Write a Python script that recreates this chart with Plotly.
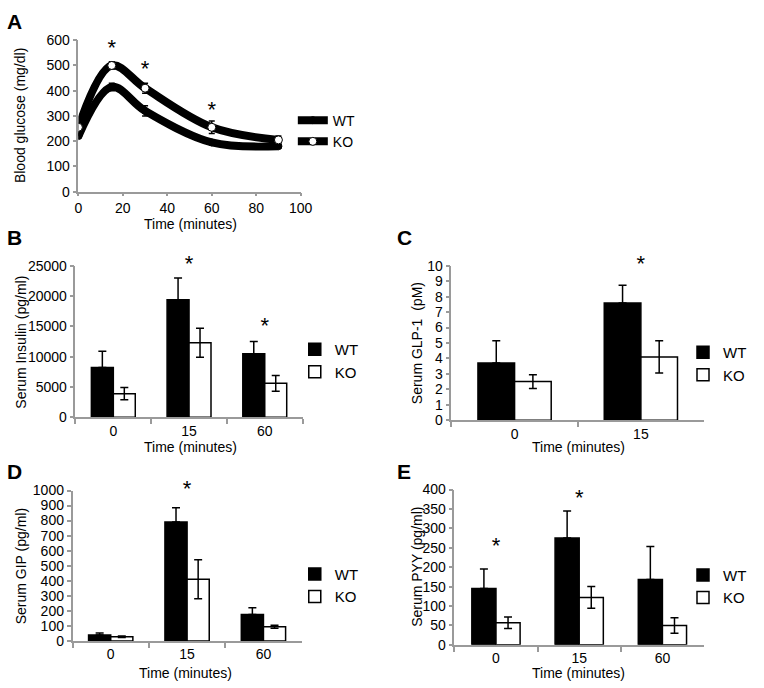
import plotly.graph_objects as go

W, H = 764, 688
FONT = "Liberation Sans, Arial, Helvetica, sans-serif"
AXC = "#9a9a9a"

# ---- Panel A: blood glucose ----
a_time = [0, 15, 30, 60, 90]
a_wt = [220, 415, 320, 195, 180]
a_wt_err = [8, 15, 20, 8, 8]
a_ko = [255, 500, 410, 255, 205]
a_ko_err = [8, 15, 20, 25, 15]
a_sig_time = [15, 30, 60]
a_sig_y = [565, 480, 317]

# ---- Bar panels ----
cats3 = ["0", "15", "60"]
cats2 = ["0", "15"]

b_wt = [8200, 19400, 10500]
b_wt_err = [2700, 3600, 2000]
b_ko = [3900, 12300, 5600]
b_ko_err = [1000, 2400, 1300]
b_sig_cat = ["15", "60"]
b_sig_y = [25000, 14800]

c_wt = [3.7, 7.6]
c_wt_err = [1.45, 1.15]
c_ko = [2.5, 4.1]
c_ko_err = [0.45, 1.05]
c_sig_cat = ["15"]
c_sig_y = [10.0]

d_wt = [40, 790, 175]
d_wt_err = [12, 95, 45]
d_ko = [28, 410, 95]
d_ko_err = [5, 130, 10]
d_sig_cat = ["15"]
d_sig_y = [1000]

e_wt = [145, 275, 168]
e_wt_err = [50, 70, 85]
e_ko = [57, 122, 50]
e_ko_err = [15, 28, 20]
e_sig_cat = ["0", "15"]
e_sig_y = [250, 375]

def px(x):
    return x / W

def py(y):
    return 1 - y / H

fig = go.Figure()

STAR = dict(size=22, color="black", family=FONT)

fig.add_trace(go.Scatter(
    x=a_time, y=a_wt, name="WT", mode="lines+markers",
    line=dict(color="black", width=8, shape="spline", smoothing=1.0),
    marker=dict(color="black", size=7, line=dict(color="black", width=1)),
    error_y=dict(type="data", array=a_wt_err, color="black", thickness=1.5, width=3),
    xaxis="x", yaxis="y", legend="legend"))
fig.add_trace(go.Scatter(
    x=a_time, y=a_ko, name="KO", mode="lines+markers",
    line=dict(color="black", width=8, shape="spline", smoothing=1.0),
    marker=dict(color="white", size=8, line=dict(color="black", width=1)),
    error_y=dict(type="data", array=a_ko_err, color="black", thickness=1.5, width=3),
    xaxis="x", yaxis="y", legend="legend"))
fig.add_trace(go.Scatter(
    x=a_sig_time, y=a_sig_y, mode="text", text=["*"] * len(a_sig_time),
    textfont=STAR, showlegend=False, cliponaxis=False,
    xaxis="x", yaxis="y", hoverinfo="skip"))

def add_bars(idx, cats, wt, wt_err, ko, ko_err, sig_cat, sig_y):
    ax = "x%d" % idx
    ay = "y%d" % idx
    lg = "legend%d" % idx
    fig.add_trace(go.Bar(
        x=cats, y=wt, name="WT", marker=dict(color="black", line=dict(color="black", width=1.5)),
        error_y=dict(type="data", symmetric=False, array=wt_err, arrayminus=[0] * len(wt),
                     color="black", thickness=1.5, width=4),
        xaxis=ax, yaxis=ay, legend=lg))
    fig.add_trace(go.Bar(
        x=cats, y=ko, name="KO", marker=dict(color="white", line=dict(color="black", width=1.5)),
        error_y=dict(type="data", array=ko_err, color="black", thickness=1.5, width=4),
        xaxis=ax, yaxis=ay, legend=lg))
    fig.add_trace(go.Scatter(
        x=sig_cat, y=sig_y, mode="text", text=["*"] * len(sig_cat),
        textfont=STAR, showlegend=False, cliponaxis=False,
        xaxis=ax, yaxis=ay, hoverinfo="skip"))

add_bars(2, cats3, b_wt, b_wt_err, b_ko, b_ko_err, b_sig_cat, b_sig_y)
add_bars(3, cats2, c_wt, c_wt_err, c_ko, c_ko_err, c_sig_cat, c_sig_y)
add_bars(4, cats3, d_wt, d_wt_err, d_ko, d_ko_err, d_sig_cat, d_sig_y)
add_bars(5, cats3, e_wt, e_wt_err, e_ko, e_ko_err, e_sig_cat, e_sig_y)

tickfont = dict(family=FONT, size=14, color="black")
axbase = dict(showline=True, linecolor=AXC, linewidth=1.5, ticks="outside",
              tickcolor=AXC, ticklen=4, tickwidth=1.5, showgrid=False, zeroline=False,
              tickfont=tickfont, fixedrange=True)

dom = {
    1: ((76, 303), (33, 188)),
    2: ((73, 305), (264, 419)),
    3: ((457, 715), (264, 422)),
    4: ((70, 304), (494, 648)),
    5: ((460, 715), (493, 652)),
}
yr = {1: (0, 600, 100), 2: (0, 25000, 5000), 3: (0, 10, 1), 4: (0, 1000, 100), 5: (0, 400, 50)}

layout = {}
for i in range(1, 6):
    (x0, x1), (y0, y1) = dom[i]
    xk = "xaxis" if i == 1 else "xaxis%d" % i
    yk = "yaxis" if i == 1 else "yaxis%d" % i
    xa = dict(axbase, domain=[px(x0), px(x1)], anchor="y" if i == 1 else "y%d" % i)
    if i == 1:
        xa.update(range=[0, 100], dtick=20, tick0=0, ticklen=3)
    else:
        xa.update(type="category", tickson="boundaries", ticklen=5)
    ya = dict(axbase, domain=[py(y1), py(y0)], anchor="x" if i == 1 else "x%d" % i,
              range=[yr[i][0], yr[i][1]], dtick=yr[i][2], tick0=0, tickformat="d")
    layout[xk] = xa
    layout[yk] = ya

fig.update_layout(**layout)

legpos = {
    "legend": (295, 126, 14, "left"),
    "legend2": (297, 361, 15, "left"),
    "legend3": (1.0, 364, 15, "right"),
    "legend4": (297, 591, 15, "left"),
    "legend5": (1.0, 592, 15, "right"),
}
for k, (lx, ly, fs, anc) in legpos.items():
    xv = lx if anc == "right" else px(lx)
    fig.update_layout({k: dict(x=xv, y=py(ly), xanchor=anc, yanchor="middle",
                               font=dict(family=FONT, size=fs, color="black"),
                               bgcolor="rgba(0,0,0,0)", itemwidth=30, tracegroupgap=0)})

anns = []
def txt(x, y, s, size=14, angle=0, bold=False):
    anns.append(dict(x=px(x), y=py(y), xref="paper", yref="paper", text=("<b>%s</b>" % s) if bold else s,
                     showarrow=False, textangle=angle, xanchor="center", yanchor="middle",
                     font=dict(family=FONT, size=size, color="black")))

txt(11, 14, "A", 21, bold=True)
txt(11, 235, "B", 21, bold=True)
txt(409, 235, "C", 21, bold=True)
txt(11, 475, "D", 21, bold=True)
txt(409, 475, "E", 21, bold=True)
txt(17, 110, "Blood glucose (mg/dl)", 14, -90)
txt(17, 342, "Serum Insulin (pg/ml)", 14, -90)
txt(422, 343, "Serum GLP-1  (pM)", 14, -90)
txt(17, 572, "Serum GIP (pg/ml)", 14, -90)
txt(422, 572, "Serum PYY (pg/ml)", 14, -90)
txt(190, 221, "Time (minutes)", 14)
txt(190, 449, "Time (minutes)", 14)
txt(587, 449, "Time (minutes)", 14)
txt(185, 681, "Time (minutes)", 14)
txt(587, 681, "Time (minutes)", 14)

fig.update_layout(
    width=W, height=H, margin=dict(l=0, r=0, t=0, b=0),
    paper_bgcolor="white", plot_bgcolor="white",
    barmode="group", bargap=0.42, bargroupgap=0,
    annotations=anns, font=dict(family=FONT, color="black"),
)

fig.write_html("out.html", config={"displayModeBar": False},
               post_script="document.body.style.margin='0';document.body.style.overflow='hidden';")
